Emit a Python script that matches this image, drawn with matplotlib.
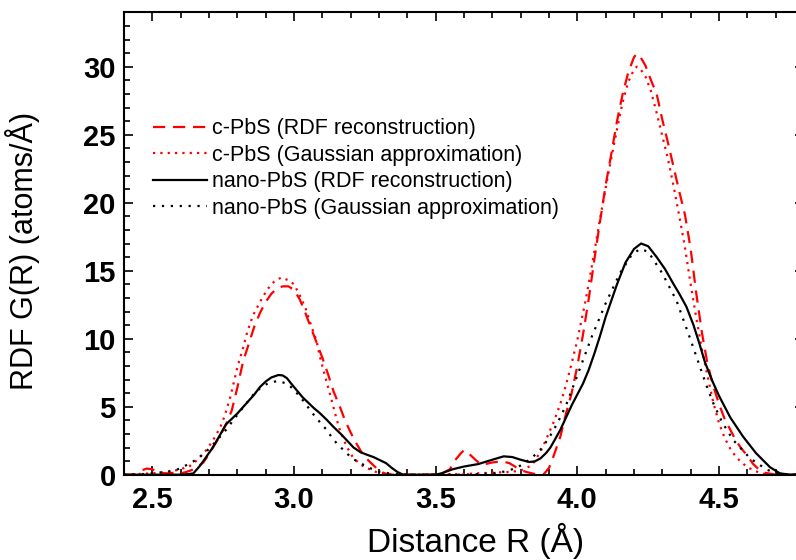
import matplotlib
matplotlib.use("Agg")
import matplotlib.pyplot as plt
from matplotlib.ticker import MultipleLocator, FormatStrFormatter

plt.rcParams['font.family'] = ['Liberation Sans', 'DejaVu Sans']

# c-PbS, RDF reconstruction
c_rdf_r = [2.40, 2.44, 2.46, 2.48, 2.50, 2.52, 2.55, 2.58, 2.60, 2.62, 2.64, 2.66, 2.68,
           2.70, 2.72, 2.74, 2.76, 2.78, 2.80, 2.82, 2.84, 2.86, 2.88, 2.90, 2.92, 2.94,
           2.96, 2.98, 3.00, 3.02, 3.04, 3.06, 3.08, 3.10, 3.12, 3.14, 3.16, 3.18, 3.20,
           3.22, 3.24, 3.26, 3.28, 3.30, 3.32, 3.34, 3.50, 3.52, 3.55, 3.57, 3.59, 3.60,
           3.62, 3.64, 3.66, 3.68, 3.70, 3.72, 3.74, 3.76, 3.78, 3.80, 3.82, 3.85, 3.88,
           3.90, 3.915, 3.94, 3.96, 3.98, 4.00, 4.02, 4.04, 4.06, 4.08, 4.10, 4.12, 4.14,
           4.16, 4.18, 4.20, 4.21, 4.22, 4.24, 4.26, 4.28, 4.30, 4.32, 4.34, 4.36, 4.38,
           4.40, 4.42, 4.44, 4.46, 4.48, 4.50, 4.52, 4.54, 4.56, 4.58, 4.60, 4.62, 4.64,
           4.66, 4.70, 4.80]
c_rdf_g = [0.0, 0.0, 0.3, 0.45, 0.4, 0.15, 0.1, 0.15, 0.1, 0.2, 0.35, 0.6, 0.9,
           1.5, 2.2, 2.9, 3.7, 4.7, 6.4, 8.3, 9.6, 10.9, 11.9, 12.7, 13.3, 13.7,
           13.85, 13.85, 13.6, 12.9, 11.9, 10.8, 9.7, 8.6, 7.4, 6.1, 5.1, 4.0, 3.1,
           2.3, 1.6, 1.1, 0.7, 0.3, 0.1, 0.0, 0.0, 0.05, 0.4, 1.1, 1.6, 1.8,
           1.5, 1.1, 0.75, 0.8, 0.9, 0.95, 0.95, 0.85, 0.6, 0.35, 0.2, 0.05, 0.0,
           0.5, 1.3, 2.8, 4.5, 6.0, 8.0, 10.3, 12.9, 15.8, 18.6, 21.3, 23.6, 26.0,
           28.0, 29.6, 30.7, 30.95, 30.8, 30.1, 29.0, 28.0, 26.1, 24.4, 22.6, 20.8, 19.1,
           16.6, 13.3, 10.4, 8.1, 6.5, 5.2, 4.1, 3.3, 2.5, 1.9, 1.4, 0.8, 0.4,
           0.15, 0.0, 0.0]

# c-PbS, Gaussian approximation
c_gau_r = [2.40, 2.45, 2.50, 2.55, 2.59, 2.63, 2.66, 2.69, 2.715, 2.74, 2.755, 2.775,
           2.79, 2.80, 2.82, 2.835, 2.855, 2.88, 2.905, 2.93, 2.955, 2.98, 3.00, 3.02,
           3.04, 3.06, 3.08, 3.09, 3.11, 3.13, 3.145, 3.16, 3.185, 3.21, 3.245, 3.29,
           3.33, 3.40, 3.60, 3.70, 3.76, 3.80, 3.84, 3.87, 3.89, 3.915, 3.94, 3.96,
           3.98, 4.00, 4.03, 4.05, 4.08, 4.10, 4.12, 4.14, 4.16, 4.18, 4.20, 4.21, 4.22,
           4.24, 4.26, 4.28, 4.30, 4.32, 4.34, 4.36, 4.38, 4.40, 4.42, 4.44, 4.46,
           4.48, 4.50, 4.52, 4.54, 4.56, 4.58, 4.60, 4.63, 4.66, 4.70, 4.80]
c_gau_g = [0.0, 0.05, 0.1, 0.2, 0.35, 0.6, 1.1, 1.8, 2.55, 3.5, 4.3, 5.7,
           7.0, 7.9, 9.3, 10.5, 11.7, 12.7, 13.6, 14.2, 14.5, 14.3, 14.0, 13.2,
           12.3, 11.0, 9.8, 8.8, 7.2, 5.7, 4.5, 3.4, 2.1, 1.2, 0.6, 0.2,
           0.05, 0.0, 0.05, 0.15, 0.2, 0.3, 0.7, 1.7, 2.6, 3.8, 5.2, 6.6,
           8.2, 9.9, 12.9, 15.2, 18.8, 21.1, 23.3, 25.4, 27.4, 28.9, 29.8, 30.0, 29.9,
           29.3, 28.2, 26.6, 24.9, 23.2, 21.2, 19.0, 16.7, 14.0, 11.5, 9.2, 7.2,
           5.3, 3.8, 2.7, 1.9, 1.3, 0.9, 0.55, 0.25, 0.05, 0.0, 0.0]

# nano-PbS, RDF reconstruction
n_rdf_r = [2.40, 2.60, 2.63, 2.645, 2.67, 2.69, 2.71, 2.73, 2.76, 2.80, 2.83, 2.86,
           2.88, 2.90, 2.92, 2.945, 2.96, 2.975, 2.99, 3.01, 3.03, 3.05, 3.07, 3.09,
           3.115, 3.14, 3.165, 3.19, 3.21, 3.235, 3.26, 3.28, 3.30, 3.325, 3.345, 3.365,
           3.385, 3.50, 3.52, 3.56, 3.60, 3.65, 3.70, 3.74, 3.77, 3.80, 3.83, 3.85,
           3.87, 3.89, 3.905, 3.92, 3.94, 3.96, 3.98, 4.00, 4.02, 4.04, 4.06, 4.08,
           4.10, 4.12, 4.14, 4.17, 4.20, 4.225, 4.25, 4.28, 4.31, 4.34, 4.36, 4.385,
           4.41, 4.43, 4.45, 4.475, 4.50, 4.54, 4.585, 4.63, 4.68, 4.715, 4.75, 4.80]
n_rdf_g = [0.0, 0.0, 0.05, 0.1, 0.7, 1.3, 1.9, 2.6, 3.7, 4.5, 5.2, 5.9,
           6.45, 6.85, 7.15, 7.33, 7.3, 7.1, 6.7, 6.2, 5.7, 5.3, 4.9, 4.55,
           4.05, 3.5, 3.0, 2.45, 2.0, 1.65, 1.45, 1.3, 1.1, 0.85, 0.5, 0.2,
           0.0, 0.0, 0.1, 0.4, 0.6, 0.78, 1.1, 1.35, 1.3, 1.1, 0.93, 0.98,
           1.2, 1.6, 2.0, 2.55, 3.3, 4.2, 5.1, 5.9, 6.7, 7.7, 8.9, 10.2,
           11.6, 12.8, 14.0, 15.6, 16.6, 17.0, 16.8, 16.0, 15.1, 14.0, 13.3, 12.35,
           11.0, 9.7, 8.3, 6.96, 5.8, 4.2, 2.8, 1.6, 0.55, 0.1, 0.0, 0.0]

# nano-PbS, Gaussian approximation
n_gau_r = [2.40, 2.45, 2.50, 2.555, 2.59, 2.62, 2.655, 2.69, 2.725, 2.76, 2.80, 2.83,
           2.855, 2.88, 2.91, 2.945, 2.98, 3.01, 3.04, 3.06, 3.09, 3.115, 3.14, 3.175,
           3.205, 3.235, 3.27, 3.30, 3.35, 3.40, 3.60, 3.70, 3.75, 3.79, 3.82, 3.845,
           3.87, 3.90, 3.93, 3.96, 4.00, 4.05, 4.10, 4.15, 4.19, 4.22, 4.25, 4.30,
           4.35, 4.40, 4.43, 4.455, 4.48, 4.51, 4.55, 4.61, 4.67, 4.72, 4.80]
n_gau_g = [0.0, 0.02, 0.1, 0.22, 0.4, 0.7, 1.1, 1.7, 2.45, 3.3, 4.4, 5.2,
           5.85, 6.35, 6.75, 6.9, 6.65, 6.0, 5.25, 4.65, 3.9, 3.3, 2.55, 1.8,
           1.2, 0.84, 0.47, 0.22, 0.05, 0.0, 0.0, 0.1, 0.25, 0.55, 0.95, 1.35,
           1.85, 2.7, 3.8, 5.1, 7.3, 10.1, 12.6, 14.8, 16.1, 16.6, 16.4, 14.8,
           12.8, 9.9, 8.1, 6.6, 5.25, 3.9, 2.55, 1.2, 0.35, 0.05, 0.0]

labels = ["c-PbS (RDF reconstruction)", "c-PbS (Gaussian approximation)",
          "nano-PbS (RDF reconstruction)", "nano-PbS (Gaussian approximation)"]

fig = plt.figure(figsize=(7.96, 5.6), dpi=100)
ax = fig.add_axes([124 / 796, 1 - 474.7 / 560, 680 / 796, 462.4 / 560])

ax.plot(c_rdf_r, c_rdf_g, color='#ff0000', lw=1.6, linestyle=(0, (5.5, 3.5)), label=labels[0])
ax.plot(c_gau_r, c_gau_g, color='#ff0000', lw=1.6, linestyle=(0, (1, 2.3)), label=labels[1])
ax.plot(n_rdf_r, n_rdf_g, color='black', lw=1.6, linestyle='-', label=labels[2])
ax.plot(n_gau_r, n_gau_g, color='black', lw=1.6, linestyle=(0, (1, 3)), label=labels[3])

ax.set_xlim(2.4, 4.8)
ax.set_ylim(0, 34)
ax.xaxis.set_major_locator(MultipleLocator(0.5))
ax.xaxis.set_minor_locator(MultipleLocator(0.1))
ax.yaxis.set_major_locator(MultipleLocator(5))
ax.yaxis.set_minor_locator(MultipleLocator(1))
ax.xaxis.set_major_formatter(FormatStrFormatter('%.1f'))

ax.tick_params(which='both', direction='in', top=True, right=True, width=1.2)
ax.tick_params(which='major', length=6.5)
ax.tick_params(which='minor', length=4.3)
ax.tick_params(axis='x', which='major', pad=8)
ax.tick_params(axis='y', which='major', pad=6)
for lab in ax.get_xticklabels() + ax.get_yticklabels():
    lab.set_fontsize(21)
    lab.set_fontweight('bold')
for sp in ax.spines.values():
    sp.set_linewidth(1.5)

ax.set_xlabel("Distance R (Å)", fontsize=24)
ax.set_ylabel("RDF G(R) (atoms/Å)", fontsize=22)
ax.xaxis.set_label_coords(0.5176, -0.1672)
ax.xaxis.label.set_va('baseline')
ax.yaxis.set_label_coords(-0.1338, 0.4838)
ax.yaxis.label.set_va('baseline')

leg = ax.legend(loc='upper left', bbox_to_anchor=(0.0426, 0.7705), frameon=False,
                fontsize=15.5, handlelength=2.5, handletextpad=0.25, labelspacing=0.255,
                borderpad=0, borderaxespad=0)

fig.savefig("out.png", dpi=100)
